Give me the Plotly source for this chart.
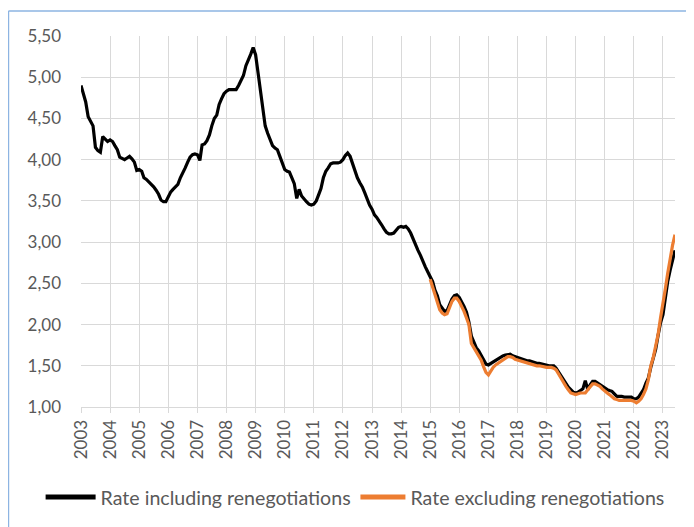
import pandas as pd
import plotly.graph_objects as go

# Monthly data, Jan 2003 - Jun 2023
rate_incl = [
    # 2003
    4.90, 4.80, 4.70, 4.52, 4.47, 4.41, 4.15, 4.11, 4.09, 4.28, 4.25, 4.22,
    # 2004
    4.24, 4.22, 4.17, 4.12, 4.03, 4.01, 4.00, 4.02, 4.04, 4.01, 3.97, 3.87,
    # 2005
    3.88, 3.86, 3.78, 3.76, 3.73, 3.71, 3.67, 3.63, 3.58, 3.51, 3.49, 3.49,
    # 2006
    3.55, 3.61, 3.64, 3.67, 3.70, 3.78, 3.83, 3.90, 3.97, 4.03, 4.06, 4.07,
    # 2007
    4.06, 3.99, 4.18, 4.19, 4.23, 4.30, 4.41, 4.50, 4.54, 4.67, 4.74, 4.80,
    # 2008
    4.83, 4.85, 4.85, 4.85, 4.85, 4.90, 4.95, 5.02, 5.14, 5.20, 5.28, 5.36,
    # 2009
    5.27, 5.05, 4.84, 4.62, 4.41, 4.32, 4.24, 4.17, 4.14, 4.12, 4.04, 3.96,
    # 2010
    3.88, 3.86, 3.85, 3.78, 3.71, 3.53, 3.64, 3.56, 3.52, 3.49, 3.46, 3.45,
    # 2011
    3.46, 3.50, 3.57, 3.65, 3.78, 3.86, 3.90, 3.95, 3.96, 3.96, 3.96, 3.97,
    # 2012
    4.00, 4.05, 4.08, 4.04, 3.96, 3.85, 3.78, 3.72, 3.67, 3.60, 3.52, 3.45,
    # 2013
    3.40, 3.33, 3.30, 3.26, 3.21, 3.16, 3.12, 3.10, 3.10, 3.11, 3.14, 3.18,
    # 2014
    3.19, 3.18, 3.19, 3.16, 3.11, 3.03, 2.96, 2.90, 2.84, 2.76, 2.70, 2.64,
    # 2015
    2.58, 2.52, 2.42, 2.35, 2.24, 2.19, 2.16, 2.17, 2.24, 2.31, 2.35, 2.36,
    # 2016
    2.33, 2.28, 2.22, 2.15, 2.03, 1.86, 1.78, 1.72, 1.68, 1.62, 1.56, 1.52,
    # 2017
    1.51, 1.53, 1.55, 1.57, 1.59, 1.60, 1.62, 1.63, 1.64, 1.64, 1.62, 1.61,
    # 2018
    1.60, 1.59, 1.58, 1.57, 1.56, 1.56, 1.55, 1.54, 1.53, 1.53, 1.52, 1.51,
    # 2019
    1.50, 1.50, 1.50, 1.50, 1.47, 1.42, 1.37, 1.32, 1.28, 1.24, 1.21, 1.18,
    # 2020
    1.17, 1.18, 1.20, 1.22, 1.32, 1.21, 1.27, 1.31, 1.31, 1.29, 1.27, 1.24,
    # 2021
    1.23, 1.21, 1.20, 1.19, 1.16, 1.13, 1.13, 1.13, 1.12, 1.12, 1.12, 1.12,
    # 2022
    1.10, 1.10, 1.12, 1.16, 1.21, 1.29, 1.35, 1.48, 1.60, 1.70, 1.87, 2.02,
    # 2023
    2.12, 2.36, 2.52, 2.66, 2.78, 2.90,
]

# Jan 2015 - Jun 2023
rate_excl = [
    # 2015
    2.55, 2.46, 2.36, 2.27, 2.18, 2.14, 2.12, 2.13, 2.20, 2.28, 2.32, 2.32,
    # 2016
    2.28, 2.22, 2.16, 2.08, 2.00, 1.77, 1.72, 1.67, 1.62, 1.57, 1.49, 1.42,
    # 2017
    1.39, 1.44, 1.48, 1.51, 1.53, 1.55, 1.57, 1.59, 1.61, 1.61, 1.60, 1.58,
    # 2018
    1.57, 1.56, 1.55, 1.54, 1.53, 1.52, 1.51, 1.51, 1.50, 1.50, 1.49, 1.48,
    # 2019
    1.48, 1.48, 1.48, 1.47, 1.45, 1.40, 1.35, 1.29, 1.25, 1.21, 1.17, 1.16,
    # 2020
    1.15, 1.16, 1.17, 1.17, 1.17, 1.21, 1.25, 1.28, 1.28, 1.27, 1.25, 1.22,
    # 2021
    1.19, 1.17, 1.15, 1.12, 1.10, 1.09, 1.08, 1.08, 1.08, 1.08, 1.08, 1.08,
    # 2022
    1.07, 1.05, 1.07, 1.10, 1.15, 1.22, 1.33, 1.50, 1.60, 1.72, 1.88, 2.08,
    # 2023
    2.24, 2.44, 2.62, 2.80, 2.96, 3.09,
]

dates_incl = pd.date_range("2003-01-01", periods=len(rate_incl), freq="MS")
dates_excl = pd.date_range("2015-01-01", periods=len(rate_excl), freq="MS")

years = list(range(2003, 2024))
tick_dates = [f"{y}-01-01" for y in years]
tick_labels = [str(y) for y in years]
y_ticks = [1.0, 1.5, 2.0, 2.5, 3.0, 3.5, 4.0, 4.5, 5.0, 5.5]
y_labels = [f"{v:.2f}".replace(".", ",") for v in y_ticks]

FONT = "Lato, Carlito, Calibri, 'Open Sans', sans-serif"
GRID = "#d9d9d9"
TXT = "#595959"

fig = go.Figure()
fig.add_trace(go.Scatter(
    x=dates_incl, y=rate_incl, mode="lines",
    name="Rate including renegotiations",
    line=dict(color="#000000", width=3.2),
    legend="legend",
))
fig.add_trace(go.Scatter(
    x=dates_excl, y=rate_excl, mode="lines",
    name="Rate excluding renegotiations",
    line=dict(color="#ED7D31", width=3.2),
    legend="legend2",
))

legend_font = dict(family=FONT, size=19.6, color=TXT)

# page has an 8px body margin, so the figure is sized 686x519
fig.update_layout(
    width=686, height=519,
    margin=dict(l=73, r=19, t=28, b=120, autoexpand=False),
    paper_bgcolor="white", plot_bgcolor="white",
    font=dict(family=FONT, size=17, color=TXT),
    showlegend=True,
    legend=dict(orientation="h", x=-0.068, xanchor="left", y=-0.243, yanchor="middle",
                font=legend_font, itemsizing="constant", itemwidth=50),
    legend2=dict(orientation="h", x=0.462, xanchor="left", y=-0.243, yanchor="middle",
                 font=legend_font, itemsizing="constant", itemwidth=45),
    xaxis=dict(
        range=[dates_incl[0], dates_incl[-1]],
        tickmode="array", tickvals=tick_dates, ticktext=tick_labels,
        tickangle=-90, showgrid=True, gridcolor=GRID, gridwidth=1,
        ticks="outside", ticklen=5, tickcolor=GRID, tickwidth=1,
        showline=True, linecolor=GRID, linewidth=1,
        zeroline=False, tickfont=dict(family=FONT, size=17, color=TXT),
    ),
    yaxis=dict(
        range=[1.0, 5.5], tickmode="array", tickvals=y_ticks, ticktext=y_labels,
        showgrid=True, gridcolor=GRID, gridwidth=1,
        zeroline=False, showline=False, ticks="",
        ticklabelstandoff=19,
        tickfont=dict(family=FONT, size=17, color=TXT),
    ),
)

# outer chart border (left and top visible)
fig.add_shape(type="line", xref="paper", yref="paper",
              x0=-0.1221, x1=1.05, y0=1.0674, y1=1.0674,
              line=dict(color="#8DB4E2", width=1.5))
fig.add_shape(type="line", xref="paper", yref="paper",
              x0=-0.1221, x1=-0.1221, y0=1.0674, y1=-0.35,
              line=dict(color="#8DB4E2", width=1.5))

fig.write_html("out.html")
